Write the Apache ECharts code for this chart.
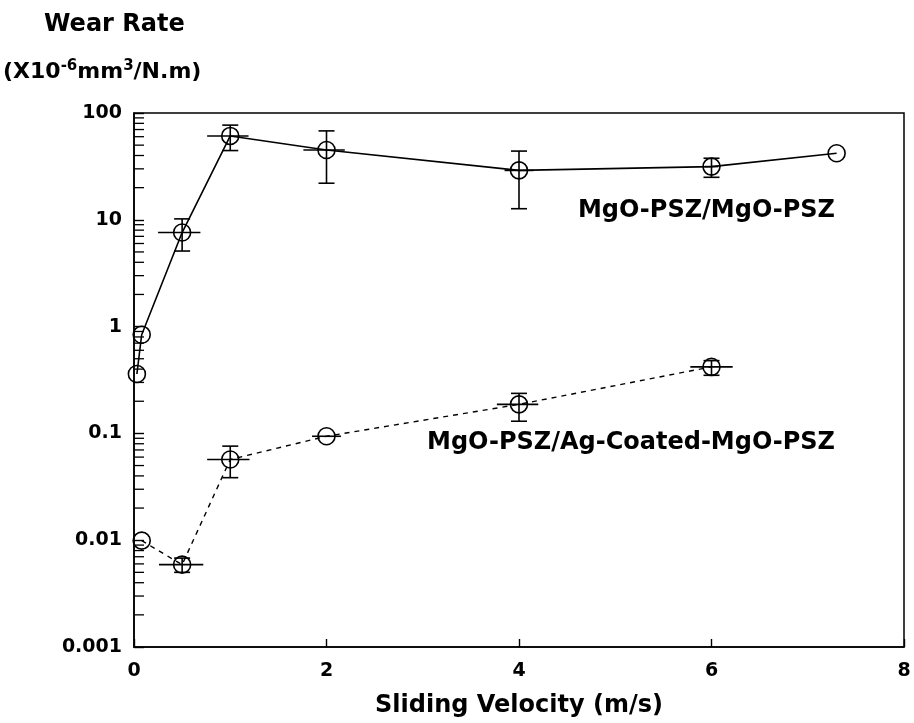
<!DOCTYPE html>
<html>
<head>
<meta charset="utf-8">
<script src="https://cdn.jsdelivr.net/npm/echarts@6/dist/echarts.min.js"></script>
<style>
html, body { margin: 0; padding: 0; background: #fff; }
#main { width: 914px; height: 723px; }
</style>
</head>
<body>
<div id="main"></div>
<script>
// MgO-PSZ/MgO-PSZ (solid)
var velA = [0.03, 0.08, 0.5, 1, 2, 4, 6, 7.3];
var wearA = [0.36, 0.84, 7.6, 61, 45, 29, 31.5, 42];
var yErrA = [null, null, [5.1, 10.2], [44.5, 77], [22, 68], [12.7, 44], [25, 37.7], null];
var xErrA = [null, null, [0.25, 0.69], [0.76, 1.19], [1.76, 2.19], [3.85, 4.15], [5.93, 6.07], null];

// MgO-PSZ/Ag-Coated-MgO-PSZ (dashed)
var velB = [0.08, 0.5, 1, 2, 4, 6];
var wearB = [0.0099, 0.0059, 0.057, 0.094, 0.187, 0.42];
var yErrB = [null, [0.005, 0.0068], [0.0385, 0.076], null, [0.13, 0.237], [0.35, 0.48]];
var xErrB = [null, [0.26, 0.72], [0.76, 1.2], [1.85, 2.15], [3.77, 4.2], [5.78, 6.22]];

var yTicks = ['0.001', '0.01', '0.1', '1', '10', '100'];
var xTicks = [0, 2, 4, 6, 8];

var FONT = '"DejaVu Sans", sans-serif';

function pairs(xs, ys) {
    return xs.map(function (x, i) { return [x, ys[i]]; });
}

function errData(xs, ys, xe, ye) {
    return xs.map(function (x, i) {
        return [x, ys[i],
            xe[i] ? xe[i][0] : NaN, xe[i] ? xe[i][1] : NaN,
            ye[i] ? ye[i][0] : NaN, ye[i] ? ye[i][1] : NaN];
    });
}

// minor ticks of the log axis: 2..9 x 10^k
var minorVals = [];
for (var d = 0; d < yTicks.length - 1; d++) {
    var base = parseFloat(yTicks[d]);
    for (var m = 2; m <= 9; m++) minorVals.push([0, base * m]);
}

function renderErr(params, api) {
    var x = api.value(0), y = api.value(1);
    var c = api.coord([x, y]);
    var kids = [];
    var st = {stroke: '#000', lineWidth: 1.6};
    if (!isNaN(api.value(2))) {
        var a = api.coord([api.value(2), y]), b = api.coord([api.value(3), y]);
        kids.push({type: 'line', shape: {x1: a[0], y1: c[1], x2: b[0], y2: c[1]}, style: st});
    }
    if (!isNaN(api.value(4))) {
        var lo = api.coord([x, api.value(4)]), hi = api.coord([x, api.value(5)]);
        kids.push({type: 'line', shape: {x1: c[0], y1: lo[1], x2: c[0], y2: hi[1]}, style: st});
        kids.push({type: 'line', shape: {x1: c[0] - 8, y1: lo[1], x2: c[0] + 8, y2: lo[1]}, style: st});
        kids.push({type: 'line', shape: {x1: c[0] - 8, y1: hi[1], x2: c[0] + 8, y2: hi[1]}, style: st});
    }
    return {type: 'group', children: kids};
}

function renderMinor(params, api) {
    var p = api.coord([0, api.value(1)]);
    return {type: 'line', shape: {x1: p[0], y1: p[1], x2: p[0] + 10, y2: p[1]},
        style: {stroke: '#000', lineWidth: 1.3}};
}

var myChart = echarts.init(document.getElementById('main'));
var option = {
    backgroundColor: '#fff',
    animation: false,
    grid: {
        left: 134, right: 10, top: 113, bottom: 75,
        show: true, borderColor: '#000', borderWidth: 1.5
    },
    xAxis: {
        type: 'value', min: 0, max: 8, interval: 2,
        axisLine: {lineStyle: {color: '#000', width: 1.6}},
        axisTick: {inside: true, length: 8, lineStyle: {color: '#000', width: 1.4}},
        splitLine: {show: false},
        axisLabel: {color: '#000', fontFamily: FONT, fontWeight: 'bold', fontSize: 19, margin: 15},
        name: 'Sliding Velocity (m/s)',
        nameLocation: 'middle',
        nameGap: 47,
        nameTextStyle: {color: '#000', fontFamily: FONT, fontWeight: 'bold', fontSize: 24}
    },
    yAxis: {
        type: 'log', logBase: 10, min: 0.001, max: 100,
        axisLine: {lineStyle: {color: '#000', width: 1.6}},
        axisTick: {inside: true, length: 10, lineStyle: {color: '#000', width: 1.4}},
        splitLine: {show: false},
        axisLabel: {
            color: '#000', fontFamily: FONT, fontWeight: 'bold', fontSize: 19, margin: 12,
            formatter: function (v) { return String(Number(v.toPrecision(3))); }
        }
    },
    graphic: [
        {type: 'text', left: 44, top: 13,
            style: {text: 'Wear Rate', font: 'bold 24px ' + FONT, fill: '#000'}},
        {type: 'text', left: 3, top: 59,
            style: {
                text: '(X10{sup|-6}mm{sup|3}/N.m)',
                font: 'bold 22px ' + FONT, fill: '#000',
                rich: {sup: {font: 'bold 15px ' + FONT, fill: '#000', verticalAlign: 'top', padding: [0, 0, 12, 0]}}
            }},
        {type: 'text', right: 79, top: 199,
            style: {text: 'MgO-PSZ/MgO-PSZ', font: 'bold 24px ' + FONT, fill: '#000'}},
        {type: 'text', right: 79, top: 431,
            style: {text: 'MgO-PSZ/Ag-Coated-MgO-PSZ', font: 'bold 24px ' + FONT, fill: '#000'}}
    ],
    series: [
        {
            type: 'custom', renderItem: renderMinor, data: minorVals, silent: true, z: 1
        },
        {
            type: 'line', data: pairs(velA, wearA),
            symbol: 'circle', symbolSize: 17,
            itemStyle: {color: 'rgba(0,0,0,0)', borderColor: '#000', borderWidth: 1.6},
            lineStyle: {color: '#000', width: 1.6}
        },
        {
            type: 'line', data: pairs(velB, wearB),
            symbol: 'circle', symbolSize: 17,
            itemStyle: {color: 'rgba(0,0,0,0)', borderColor: '#000', borderWidth: 1.6},
            lineStyle: {color: '#000', width: 1.4, type: [5, 5]}
        },
        {type: 'custom', renderItem: renderErr, data: errData(velA, wearA, xErrA, yErrA), z: 3},
        {type: 'custom', renderItem: renderErr, data: errData(velB, wearB, xErrB, yErrB), z: 3}
    ]
};
myChart.setOption(option);
</script>
</body>
</html>
